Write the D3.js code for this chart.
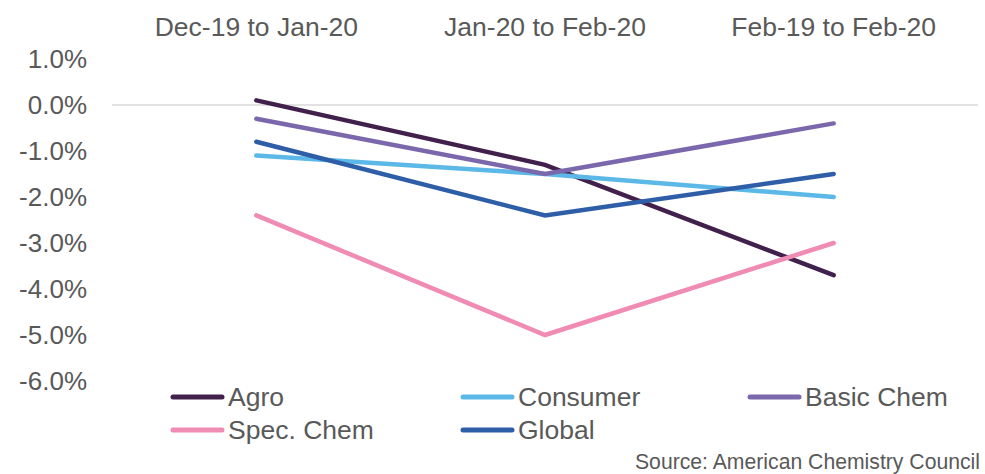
<!DOCTYPE html>
<html>
<head>
<meta charset="utf-8">
<script src="https://cdn.jsdelivr.net/npm/d3@7"></script>
<style>
  html, body { margin: 0; padding: 0; background: #ffffff; }
  svg { display: block; font-family: "Liberation Sans", Arial, sans-serif; }
</style>
</head>
<body>
<svg id="chart" width="985" height="474"></svg>
<script>
// Periods compared (% change in chemical output)
const periods = ["Dec-19 to Jan-20", "Jan-20 to Feb-20", "Feb-19 to Feb-20"];

const seriesNames = ["Agro", "Consumer", "Basic Chem", "Spec. Chem", "Global"];
const seriesColors = ["#42204c", "#5cb8e6", "#7b67ab", "#f08bb3", "#2e5ea8"];

const agro      = [0.1, -1.3, -3.7];
const consumer  = [-1.1, -1.5, -2.0];
const basicChem = [-0.3, -1.5, -0.4];
const specChem  = [-2.4, -5.0, -3.0];
const global    = [-0.8, -2.4, -1.5];

const yTicks = [1, 0, -1, -2, -3, -4, -5, -6];
const sourceText = "Source: American Chemistry Council";

const seriesValues = [agro, consumer, basicChem, specChem, global];
const series = seriesNames.map((name, i) => ({
  name, color: seriesColors[i],
  values: seriesValues[i].map((v, j) => ({ period: periods[j], value: v }))
}));

const svg = d3.select("#chart");
const textColor = "#595959";

const x = d3.scaleBand().domain(periods).range([112, 978]);
const y = d3.scaleLinear().domain([-6, 1]).range([381, 59]);
const cx = p => x(p) + x.bandwidth() / 2;

// Period labels across the top
svg.append("g")
  .selectAll("text")
  .data(periods)
  .join("text")
  .attr("x", d => cx(d))
  .attr("y", 36)
  .attr("text-anchor", "middle")
  .attr("font-size", 26.5)
  .attr("fill", textColor)
  .text(d => d);

// Y axis labels (no axis line or ticks), plain hyphen for negatives
const pct = v => (v < 0 ? "-" : "") + Math.abs(v).toFixed(1) + "%";
const yAxis = d3.axisLeft(y)
  .tickValues(yTicks)
  .tickSize(0)
  .tickPadding(0)
  .tickFormat(pct);

const yg = svg.append("g")
  .attr("transform", "translate(87,0)")
  .call(yAxis);
yg.select(".domain").remove();
yg.selectAll("text")
  .attr("font-size", 26)
  .attr("font-family", "Liberation Sans, Arial, sans-serif")
  .attr("fill", textColor);

// Zero reference line
svg.append("line")
  .attr("x1", x.range()[0])
  .attr("x2", x.range()[1])
  .attr("y1", y(0))
  .attr("y2", y(0))
  .attr("stroke", "#d9d9d9")
  .attr("stroke-width", 1.5);

// Series lines
const line = d3.line()
  .x(d => cx(d.period))
  .y(d => y(d.value));

svg.append("g")
  .selectAll("path")
  .data(series)
  .join("path")
  .attr("d", d => line(d.values))
  .attr("fill", "none")
  .attr("stroke", d => d.color)
  .attr("stroke-width", 4.5)
  .attr("stroke-linecap", "round")
  .attr("stroke-linejoin", "miter");

// Legend
const legendCols = [172, 462, 749];
const legendRows = [397, 430];
const legend = svg.append("g")
  .selectAll("g")
  .data(series)
  .join("g")
  .attr("transform", (d, i) =>
    `translate(${legendCols[i % 3]},${legendRows[Math.floor(i / 3)]})`);

legend.append("line")
  .attr("x1", 1).attr("x2", 50)
  .attr("y1", 0).attr("y2", 0)
  .attr("stroke", d => d.color)
  .attr("stroke-width", 5)
  .attr("stroke-linecap", "round");

legend.append("text")
  .attr("x", 56)
  .attr("y", 0)
  .attr("dy", "0.35em")
  .attr("font-size", 26.5)
  .attr("fill", textColor)
  .text(d => d.name);

// Source note
svg.append("text")
  .attr("x", 980)
  .attr("y", 469)
  .attr("text-anchor", "end")
  .attr("font-size", 21.2)
  .attr("fill", textColor)
  .text(sourceText);
</script>
</body>
</html>
